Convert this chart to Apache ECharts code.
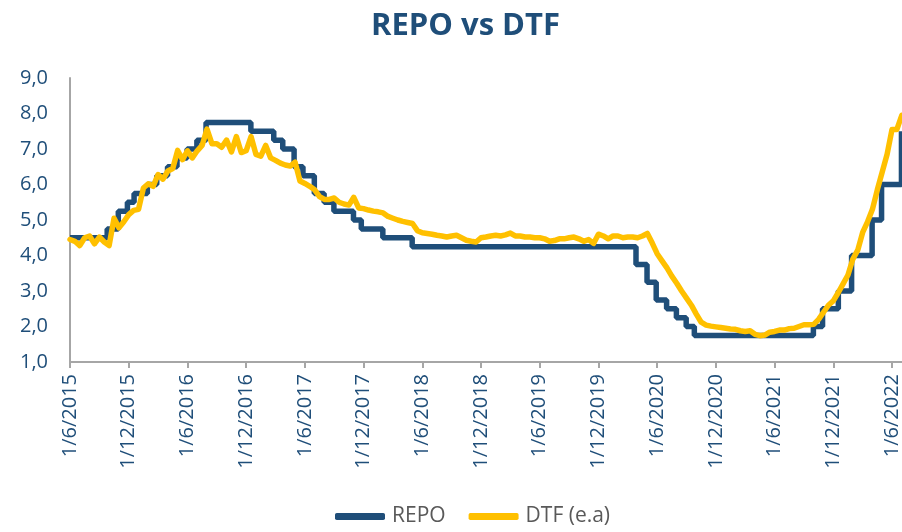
<!DOCTYPE html>
<html>
<head>
<meta charset="utf-8">
<script src="https://cdn.jsdelivr.net/npm/echarts@6/dist/echarts.min.js"></script>
<style>
  html, body { margin: 0; padding: 0; background: #fff; }
  #chart { width: 902px; height: 532px; }
</style>
</head>
<body>
<div id="chart"></div>
<script>
// tick labels on the date axis (one every 6 months)
const xTickLabels = ['1/6/2015', '1/12/2015', '1/6/2016', '1/12/2016', '1/6/2017', '1/12/2017',
  '1/6/2018', '1/12/2018', '1/6/2019', '1/12/2019', '1/6/2020', '1/12/2020',
  '1/6/2021', '1/12/2021', '1/6/2022']

// REPO: policy rate, date of each change and the new level
const repoDates = ['2015-06-01', '2015-09-25', '2015-10-30', '2015-11-27', '2015-12-18',
  '2016-01-29', '2016-02-26', '2016-03-31', '2016-04-29', '2016-05-31', '2016-06-30',
  '2016-07-29', '2016-12-16', '2017-02-24', '2017-03-24', '2017-04-28', '2017-05-26',
  '2017-06-30', '2017-07-31', '2017-08-31', '2017-10-31', '2017-11-24', '2018-01-31',
  '2018-04-30', '2020-03-27', '2020-04-30', '2020-05-29', '2020-06-30', '2020-07-31',
  '2020-08-31', '2020-09-25', '2021-09-30', '2021-10-29', '2021-12-17', '2022-01-28',
  '2022-03-31', '2022-04-29', '2022-06-30', '2022-07-01']
const repoValues = [4.50, 4.75, 5.25, 5.50, 5.75,
  6.00, 6.25, 6.50, 6.75, 7.00, 7.25,
  7.75, 7.50, 7.25, 7.00, 6.50, 6.25,
  5.75, 5.50, 5.25, 5.00, 4.75, 4.50,
  4.25, 3.75, 3.25, 2.75, 2.50, 2.25,
  2.00, 1.75, 2.00, 2.50, 3.00, 4.00,
  5.00, 6.00, 7.50, 7.50]

// DTF (e.a): semi-monthly readings, first one on 1/6/2015
const dtfValues = [
  4.45, 4.40, 4.28, 4.50, 4.55, 4.33, 4.52, 4.38, 4.28, 5.05, // 2015
  4.78, 4.95, 5.15, 5.27, 5.30, 5.90, 6.02, 5.95, 6.28, 6.15,
  6.38, 6.45, 6.96, 6.70, 6.95, 6.75, 6.95, 7.10, 7.56, 7.15, // 2016
  7.15, 7.05, 7.25, 6.92, 7.35, 6.90, 6.95, 7.35, 6.85, 6.80,
  7.10, 6.75, 6.68, 6.60, 6.55, 6.52, 6.63, 6.10, 6.03, 5.95, // 2017
  5.85, 5.66, 5.58, 5.58, 5.62, 5.50, 5.45, 5.42, 5.64, 5.34,
  5.32, 5.28, 5.25, 5.23, 5.20, 5.10, 5.05, 5.00, 4.96, 4.93, // 2018
  4.90, 4.70, 4.64, 4.62, 4.60, 4.57, 4.55, 4.52, 4.55, 4.57,
  4.50, 4.43, 4.40, 4.38, 4.50, 4.52, 4.55, 4.57, 4.55, 4.58, // 2019
  4.63, 4.55, 4.55, 4.52, 4.52, 4.50, 4.50, 4.47, 4.40, 4.42,
  4.47, 4.47, 4.50, 4.52, 4.47, 4.40, 4.45, 4.34, 4.60, 4.55, // 2020
  4.47, 4.55, 4.55, 4.50, 4.52, 4.52, 4.50, 4.55, 4.62, 4.35,
  4.05, 3.85, 3.65, 3.42, 3.22, 3.00, 2.80, 2.60, 2.35, 2.12,
  2.04, 2.01, 1.99, 1.97, 1.95, 1.93, 1.92, 1.88, 1.86, 1.88, // 2021
  1.78, 1.74, 1.76, 1.84, 1.86, 1.90, 1.90, 1.94, 1.95, 2.00,
  2.05, 2.05, 2.06, 2.20, 2.40, 2.60, 2.72, 2.95, 3.20, 3.45,
  3.90, 4.15, 4.65, 4.95, 5.30, 5.85, 6.35, 6.85, 7.55, 7.55, // 2022
  7.95
]

// months elapsed since 1/6/2015 -> position on the x axis
function toMonths (s) {
  const p = s.split('-').map(Number)
  const days = new Date(p[0], p[1], 0).getDate()
  return (p[0] - 2015) * 12 + (p[1] - 6) + (p[2] - 1) / days
}

const repoData = repoDates.map((d, i) => [toMonths(d), repoValues[i]])
const dtfData = dtfValues.map((v, i) => [i * 0.5, v])

const blue = '#1F4E79'
const gold = '#FFC000'
const axisGray = '#A6A6A6'
const font = 'Open Sans'

const myChart = echarts.init(document.getElementById('chart'))
myChart.setOption({
  animation: false,
  backgroundColor: '#fff',
  title: {
    text: 'REPO vs DTF',
    left: 366,
    top: 6,
    textStyle: {
      color: blue,
      fontFamily: font,
      fontWeight: 'bold',
      fontSize: 31
    }
  },
  legend: {
    bottom: 0,
    left: 330,
    icon: 'roundRect',
    itemWidth: 50,
    itemHeight: 7,
    itemGap: 23,
    data: ['REPO', 'DTF (e.a)'],
    textStyle: {
      color: '#595959',
      fontFamily: font,
      fontSize: 21,
      padding: [0, 0, 0, 2]
    }
  },
  grid: {
    left: 70,
    right: -2,
    top: 78,
    bottom: 170,
    containLabel: false
  },
  xAxis: {
    type: 'value',
    min: 0,
    max: 85,
    interval: 6,
    axisLine: { lineStyle: { color: axisGray, width: 2 } },
    axisTick: { show: true, length: 6, lineStyle: { color: axisGray, width: 2 } },
    splitLine: { show: false },
    axisLabel: {
      rotate: 90,
      margin: 12,
      color: blue,
      fontFamily: font,
      fontSize: 20,
      showMaxLabel: false,
      formatter: v => xTickLabels[Math.round(v / 6)] || ''
    }
  },
  yAxis: {
    type: 'value',
    min: 1,
    max: 9,
    interval: 1,
    axisLine: { show: true, lineStyle: { color: axisGray, width: 2 } },
    axisTick: { show: false },
    splitLine: { show: false },
    axisLabel: {
      margin: 22,
      color: blue,
      fontFamily: font,
      fontSize: 20,
      formatter: v => v.toFixed(1).replace('.', ',')
    }
  },
  series: [
    {
      name: 'REPO',
      type: 'line',
      step: 'end',
      symbol: 'none',
      color: blue,
      data: repoData,
      lineStyle: { color: blue, width: 5.5 }
    },
    {
      name: 'DTF (e.a)',
      type: 'line',
      symbol: 'none',
      color: gold,
      data: dtfData,
      lineStyle: { color: gold, width: 5.5, join: 'round', cap: 'round' }
    }
  ]
})
</script>
</body>
</html>
